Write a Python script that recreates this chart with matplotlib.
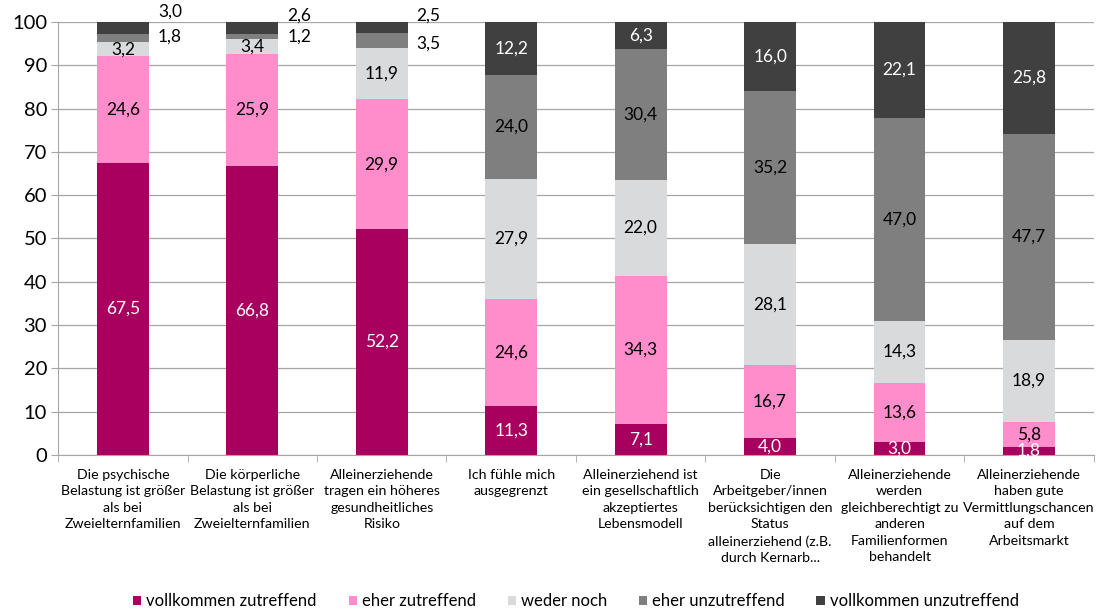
import numpy as np
import matplotlib
matplotlib.use("Agg")
import matplotlib.pyplot as plt
from matplotlib.patches import Patch

plt.rcParams['font.family'] = ['Lato', 'DejaVu Sans']

categories = [
    "Die psychische\nBelastung ist größer\nals bei\nZweielternfamilien",
    "Die körperliche\nBelastung ist größer\nals bei\nZweielternfamilien",
    "Alleinerziehende\ntragen ein höheres\ngesundheitliches\nRisiko",
    "Ich fühle mich\nausgegrenzt",
    "Alleinerziehend ist\nein gesellschaftlich\nakzeptiertes\nLebensmodell",
    "Die\nArbeitgeber/innen\nberücksichtigen den\nStatus\nalleinerziehend (z.B.\ndurch Kernarb...",
    "Alleinerziehende\nwerden\ngleichberechtigt zu\nanderen\nFamilienformen\nbehandelt",
    "Alleinerziehende\nhaben gute\nVermittlungschancen\nauf dem\nArbeitsmarkt",
]

series_names = ["vollkommen zutreffend", "eher zutreffend", "weder noch",
                "eher unzutreffend", "vollkommen unzutreffend"]

voll_zu = [67.5, 66.8, 52.2, 11.3, 7.1, 4.0, 3.0, 1.8]
eher_zu = [24.6, 25.9, 29.9, 24.6, 34.3, 16.7, 13.6, 5.8]
weder = [3.2, 3.4, 11.9, 27.9, 22.0, 28.1, 14.3, 18.9]
eher_unzu = [1.8, 1.2, 3.5, 24.0, 30.4, 35.2, 47.0, 47.7]
voll_unzu = [3.0, 2.6, 2.5, 12.2, 6.3, 16.0, 22.1, 25.8]

colors = ["#A8005E", "#FF8DCB", "#D8DADC", "#7F7F7F", "#404040"]
text_colors = ["white", "black", "black", "black", "white"]

data = np.array([voll_zu, eher_zu, weder, eher_unzu, voll_unzu])
x = np.arange(len(categories))

fig = plt.figure(figsize=(10.97, 6.09), dpi=100)
ax = fig.add_axes([0.053, 0.253, 0.944, 0.711])

bottom = np.zeros(len(categories))
for k in range(len(series_names)):
    vals = data[k]
    ax.bar(x, vals, 0.4, bottom=bottom, color=colors[k], zorder=2)
    for i, v in enumerate(vals):
        lab = f"{v:.1f}".replace(".", ",")
        # small top segments of the first three bars get labels beside the bar
        if i < 3 and k >= 3:
            continue
        ax.text(x[i], bottom[i] + v / 2, lab, ha="center", va="center",
                fontsize=12.5, color=text_colors[k], zorder=3)
    bottom += vals

# labels for the thin segments, placed right of the bar
side_y = {(0, 4): 102.4, (0, 3): 96.6, (1, 4): 101.4, (1, 3): 96.6,
          (2, 4): 101.5, (2, 3): 95.0}
for (i, k), yy in side_y.items():
    ax.text(x[i] + 0.27, yy, f"{data[k][i]:.1f}".replace(".", ","),
            ha="left", va="center", fontsize=12.5, color="black",
            clip_on=False)

ax.set_xlim(-0.5, len(categories) - 0.5)
ax.set_ylim(0, 100)
ax.set_yticks(np.arange(0, 101, 10))
ax.yaxis.grid(True, color="#A6A6A6", linewidth=0.9, zorder=0)
ax.set_axisbelow(True)
ax.tick_params(axis="y", labelsize=14.5, length=5, color="#A6A6A6", pad=3)

ax.set_xticks(x)
ax.set_xticklabels(categories, fontsize=10.2, linespacing=1.45, va="top")
ax.set_xticks(np.arange(-0.5, len(categories)), minor=True)
ax.tick_params(axis="x", which="major", length=0, pad=10)
ax.tick_params(axis="x", which="minor", length=5, color="#A6A6A6")

for s in ["top", "right"]:
    ax.spines[s].set_visible(False)
for s in ["left", "bottom"]:
    ax.spines[s].set_color("#A6A6A6")

handles = [Patch(facecolor=c) for c in colors]
fig.legend(handles, series_names, loc="lower center", ncol=5, frameon=False,
           fontsize=12, handlelength=0.5, handleheight=0.5, handletextpad=0.3,
           columnspacing=1.9, bbox_to_anchor=(0.525, -0.025))

fig.savefig("out.png", dpi=100)
